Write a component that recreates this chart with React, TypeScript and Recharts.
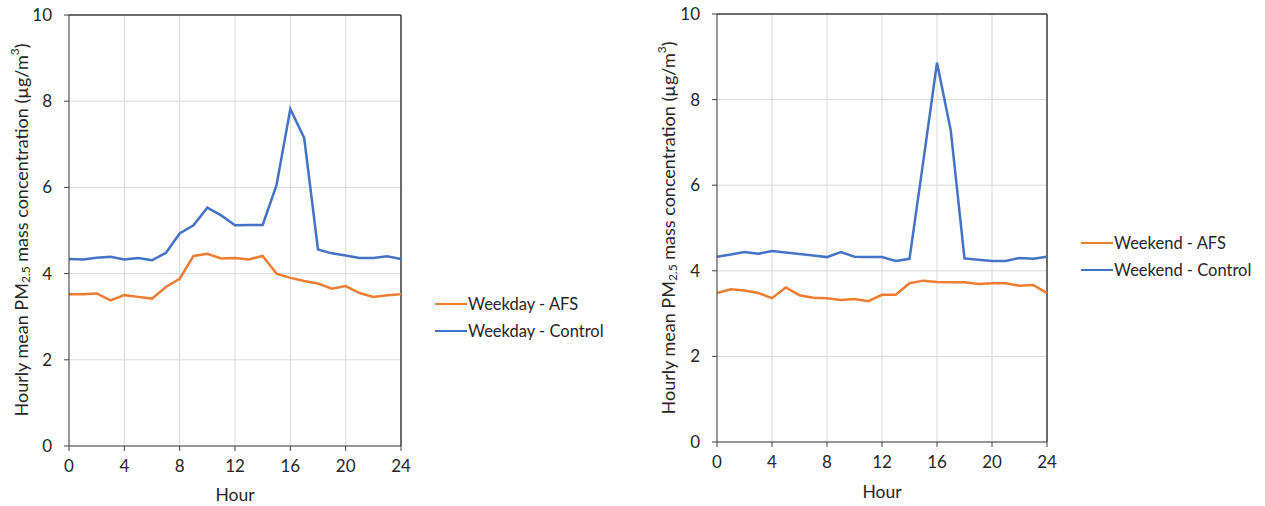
import React from 'react';
import {
  LineChart,
  Line,
  XAxis,
  YAxis,
  CartesianGrid,
  ReferenceLine,
} from 'recharts';

const HOURS = [0, 1, 2, 3, 4, 5, 6, 7, 8, 9, 10, 11, 12, 13, 14, 15, 16, 17, 18, 19, 20, 21, 22, 23, 24];
const X_TICKS = [0, 4, 8, 12, 16, 20, 24];
const Y_TICKS = [0, 2, 4, 6, 8, 10];

const WEEKDAY_AFS = [3.52, 3.52, 3.54, 3.38, 3.5, 3.46, 3.42, 3.69, 3.88, 4.41, 4.46, 4.35, 4.36, 4.33, 4.41, 4.0, 3.9, 3.83, 3.77, 3.65, 3.71, 3.55, 3.46, 3.5, 3.52];
const WEEKDAY_CONTROL = [4.34, 4.33, 4.37, 4.39, 4.33, 4.36, 4.31, 4.48, 4.93, 5.12, 5.53, 5.35, 5.12, 5.13, 5.13, 6.05, 7.82, 7.15, 4.56, 4.47, 4.42, 4.36, 4.36, 4.4, 4.34];
const WEEKEND_AFS = [3.48, 3.57, 3.54, 3.48, 3.36, 3.61, 3.43, 3.37, 3.36, 3.32, 3.34, 3.29, 3.44, 3.44, 3.71, 3.77, 3.74, 3.73, 3.73, 3.69, 3.71, 3.71, 3.65, 3.67, 3.48];
const WEEKEND_CONTROL = [4.33, 4.38, 4.44, 4.4, 4.46, 4.43, 4.39, 4.36, 4.32, 4.44, 4.33, 4.32, 4.32, 4.23, 4.28, 6.55, 8.86, 7.28, 4.29, 4.26, 4.23, 4.23, 4.3, 4.28, 4.33];

const ORANGE = '#ED7D31';
const BLUE = '#4472C4';
const FONT = 'Lato, "Open Sans", sans-serif';
const TEXT = '#262626';

const weekdayData = HOURS.map((h, i) => ({ hour: h, afs: WEEKDAY_AFS[i], control: WEEKDAY_CONTROL[i] }));
const weekendData = HOURS.map((h, i) => ({ hour: h, afs: WEEKEND_AFS[i], control: WEEKEND_CONTROL[i] }));

const YTitle = ({ x, y }: { x: number; y: number }) => (
  <text
    x={x}
    y={y}
    transform={`rotate(-90 ${x} ${y})`}
    textAnchor="middle"
    dominantBaseline="central"
    fontFamily={FONT}
    fontSize={18}
    fill={TEXT}
  >
    Hourly mean PM
    <tspan fontSize={12} dy={4}>2.5</tspan>
    <tspan dy={-4}> mass concentration (µg/m</tspan>
    <tspan fontSize={12} dy={-7}>3</tspan>
    <tspan dy={7}>)</tspan>
  </text>
);

type PanelProps = {
  data: { hour: number; afs: number; control: number }[];
  left: number;
  width: number;
  plotLeft: number;
  plotRight: number;
  plotTop: number;
  plotBottom: number;
  titleX: number;
  titleY: number;
  hourY: number;
  labels: [string, string];
  legendX: number;
  legendY: number;
};

const Panel = (p: PanelProps) => (
  <div style={{ position: 'absolute', left: p.left, top: 0, width: p.width, height: 506 }}>
    <LineChart
      width={p.width}
      height={506}
      data={p.data}
      margin={{ top: p.plotTop, right: p.width - p.plotRight, left: 0, bottom: 506 - p.plotBottom - 30 }}
    >
      <CartesianGrid stroke="#d9d9d9" strokeWidth={1} />
      <XAxis
        dataKey="hour"
        type="number"
        domain={[0, 24]}
        ticks={X_TICKS}
        interval={0}
        stroke="#404040"
        tick={{ fill: TEXT, fontSize: 17, fontFamily: FONT }}
        tickSize={5}
        tickMargin={9}
        height={30}
      />
      <YAxis
        type="number"
        domain={[0, 10]}
        ticks={Y_TICKS}
        interval={0}
        stroke="#404040"
        width={p.plotLeft}
        tick={{ fill: TEXT, fontSize: 17, fontFamily: FONT }}
        tickSize={5}
        tickMargin={12}
      />
      <ReferenceLine x={24} stroke="#404040" strokeWidth={1.5} />
      <ReferenceLine y={10} stroke="#404040" strokeWidth={1.5} />
      <Line type="linear" dataKey="afs" stroke={ORANGE} strokeWidth={2.5} dot={false} isAnimationActive={false} />
      <Line type="linear" dataKey="control" stroke={BLUE} strokeWidth={2.5} dot={false} isAnimationActive={false} />
    </LineChart>
    <svg style={{ position: 'absolute', left: 0, top: 0 }} width={p.width} height={506}>
      <YTitle x={p.titleX} y={p.titleY} />
      <text x={(p.plotLeft + p.plotRight) / 2} y={p.hourY} textAnchor="middle" dominantBaseline="central" fontFamily={FONT} fontSize={17.5} fill={TEXT}>
        Hour
      </text>
      {[ORANGE, BLUE].map((c, i) => (
        <g key={c}>
          <line x1={p.legendX} x2={p.legendX + 32} y1={p.legendY + i * 27} y2={p.legendY + i * 27} stroke={c} strokeWidth={2} />
          <text x={p.legendX + 33} y={p.legendY + i * 27} dominantBaseline="central" fontFamily={FONT} fontSize={16.5} fill={TEXT}>
            {p.labels[i]}
          </text>
        </g>
      ))}
    </svg>
  </div>
);

export default function App() {
  return (
    <div style={{ position: 'absolute', left: 0, top: 0, width: 1265, height: 506, background: '#fff', overflow: 'hidden' }}>
      <Panel
        data={weekdayData}
        left={0}
        width={640}
        plotLeft={69}
        plotRight={401}
        plotTop={15}
        plotBottom={446}
        titleX={21}
        titleY={230}
        hourY={494}
        labels={['Weekday - AFS', 'Weekday - Control']}
        legendX={435}
        legendY={304}
      />
      <Panel
        data={weekendData}
        left={640}
        width={625}
        plotLeft={77}
        plotRight={407}
        plotTop={14}
        plotBottom={442}
        titleX={28}
        titleY={228}
        hourY={491}
        labels={['Weekend - AFS', 'Weekend - Control']}
        legendX={441}
        legendY={243}
      />
    </div>
  );
}
